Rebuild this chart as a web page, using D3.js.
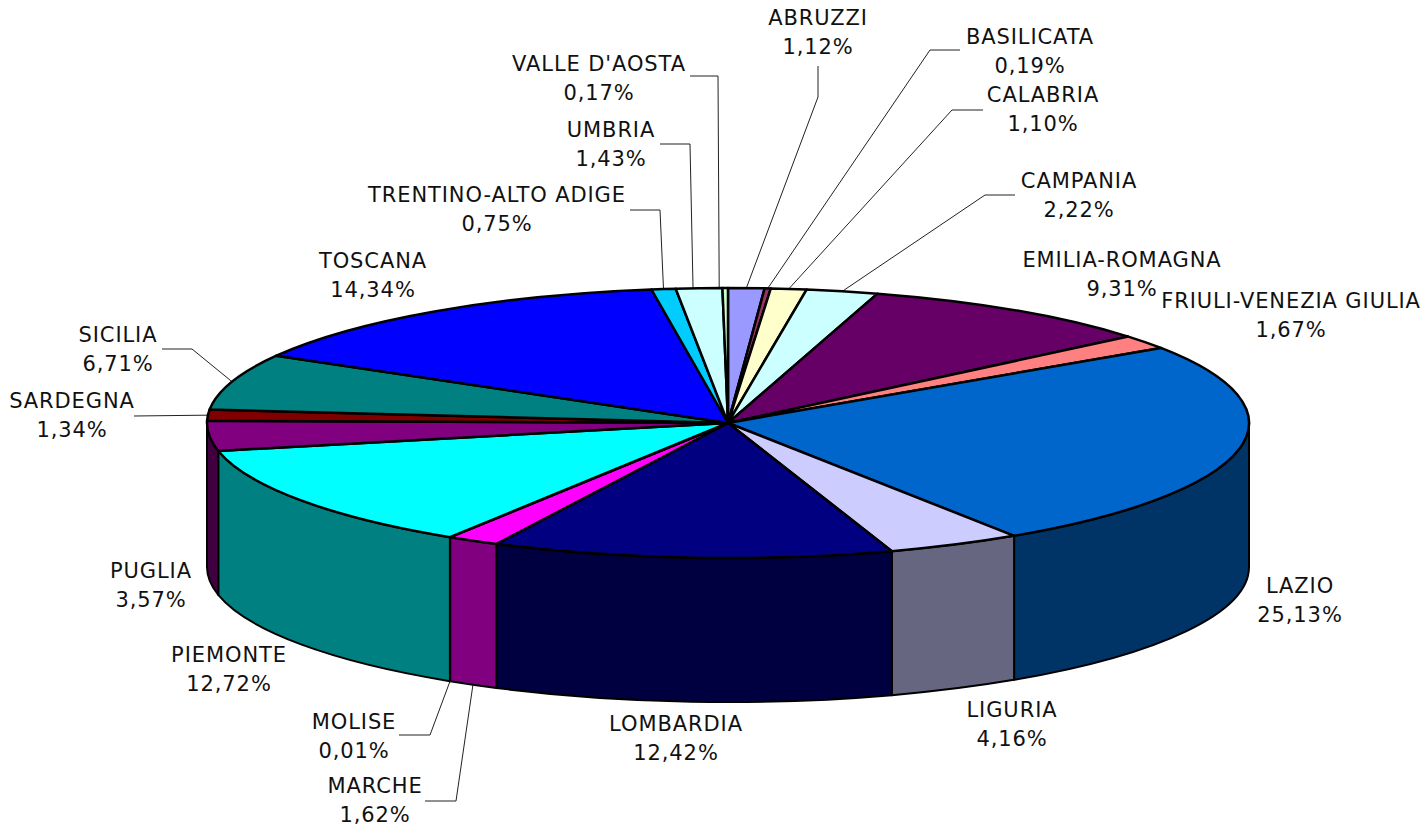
<!DOCTYPE html>
<html>
<head>
<meta charset="utf-8">
<script src="https://d3js.org/d3.v7.min.js"></script>
<style>
html, body { margin: 0; padding: 0; background: #fff; }
svg { display: block; }
text { font-family: "DejaVu Sans", sans-serif; font-size: 21px; letter-spacing: 0.9px; fill: #111; text-anchor: middle; }
</style>
</head>
<body>
<div id="chart"></div>
<script>
const regions = ["ABRUZZI", "BASILICATA", "CALABRIA", "CAMPANIA", "EMILIA-ROMAGNA", "FRIULI-VENEZIA GIULIA", "LAZIO", "LIGURIA", "LOMBARDIA", "MARCHE", "MOLISE", "PIEMONTE", "PUGLIA", "SARDEGNA", "SICILIA", "TOSCANA", "TRENTINO-ALTO ADIGE", "UMBRIA", "VALLE D'AOSTA"];
const shares = [1.12, 0.19, 1.10, 2.22, 9.31, 1.67, 25.13, 4.16, 12.42, 1.62, 0.01, 12.72, 3.57, 1.34, 6.71, 14.34, 0.75, 1.43, 0.17];
const topColors = ["#9999ff", "#993366", "#ffffcc", "#ccffff", "#660066", "#ff8080", "#0066cc", "#ccccff", "#000080", "#ff00ff", "#ffff00", "#00ffff", "#800080", "#800000", "#008080", "#0000ff", "#00ccff", "#ccffff", "#ccffcc"];

// label centres and leader elbows, in region order (no elbow = no leader)
const labelX = [818, 1030, 1043, 1079, 1122, 1291, 1300, 1012, 676, 375, 354, 229, 151, 72, 118, 373, 497, 611, 599];
const labelY = [18, 37, 95, 181, 260, 301, 586, 710, 724, 786, 722, 655, 571, 401, 335, 261, 195, 130, 64];
const leaders = {
    "ABRUZZI": [[818, 66], [818, 97]],
    "BASILICATA": [[960, 50], [930, 50]],
    "CALABRIA": [[983, 110], [952, 110]],
    "CAMPANIA": [[1015, 195], [985, 195]],
    "MARCHE": [[425, 801], [456, 801]],
    "MOLISE": [[399, 735], [430, 735]],
    "SARDEGNA": [[134, 416]],
    "SICILIA": [[162, 349], [192, 349]],
    "TRENTINO-ALTO ADIGE": [[630, 210], [660, 210]],
    "UMBRIA": [[660, 144], [690, 144]],
    "VALLE D'AOSTA": [[690, 76], [718, 76]],
};
// these two leaders land a little left of the slice middle
const leaderNudge = { "UMBRIA": -6, "VALLE D'AOSTA": -6 };

const WIDTH = 1428;
const HEIGHT = 832;
const CX = 728;
const CY = 423;
const RX = 521;
const RY = 135;
const DEPTH = 144;

const svg = d3.select("#chart").append("svg").attr("width", WIDTH).attr("height", HEIGHT);

const pie = d3.pie().sort(null).value((d) => d.share);
const slices = pie(regions.map((name, i) => ({ name, share: shares[i], color: topColors[i] })));

const project = (t, dy = 0) => [CX + RX * Math.sin(t), CY - RY * Math.cos(t) + dy];
const share2text = (v) => d3.format(".2f")(v).replace(".", ",") + "%";
const darken = (c) => {
    const rgb = d3.rgb(c);
    return d3.rgb(rgb.r / 2, rgb.g / 2, rgb.b / 2).formatHex();
};

// leaders go under the pie
const leaderG = svg.append("g");
slices.forEach((s) => {
    const elbow = leaders[s.data.name];
    if (!elbow) return;
    const mid = (s.startAngle + s.endAngle) / 2;
    const wall = mid > Math.PI / 2 && mid < 1.5 * Math.PI ? DEPTH : 0;
    const [ex, ey] = project(mid, wall);
    leaderG
        .append("path")
        .attr("d", d3.line()([...elbow, [ex + (leaderNudge[s.data.name] || 0), ey]]))
        .attr("fill", "none")
        .attr("stroke", "#222")
        .attr("stroke-width", 1);
});

// front wall, only the part between 90 and 270 degrees shows
const wallG = svg.append("g");
slices.forEach((s) => {
    const a0 = Math.max(s.startAngle, Math.PI / 2);
    const a1 = Math.min(s.endAngle, 1.5 * Math.PI);
    if (a1 <= a0) return;
    const [x0, y0] = project(a0);
    const [x1, y1] = project(a1);
    wallG
        .append("path")
        .attr("d", `M${x0},${y0}A${RX},${RY} 0 0 1 ${x1},${y1}L${x1},${y1 + DEPTH}A${RX},${RY} 0 0 0 ${x0},${y0 + DEPTH}Z`)
        .attr("fill", darken(s.data.color))
        .attr("stroke", "#000")
        .attr("stroke-width", 2)
        .attr("stroke-linejoin", "round");
});

// top face is a flat d3 arc squashed into an ellipse
const arc = d3.arc().innerRadius(0).outerRadius(RX);
svg.append("g")
    .attr("transform", `translate(${CX},${CY}) scale(1,${RY / RX})`)
    .selectAll("path")
    .data(slices)
    .join("path")
    .attr("d", arc)
    .attr("fill", (d) => d.data.color)
    .attr("stroke", "#000")
    .attr("stroke-width", 2.5)
    .attr("stroke-linejoin", "round")
    .attr("vector-effect", "non-scaling-stroke");

const labelG = svg.append("g");
slices.forEach((s, i) => {
    const t = labelG.append("text").attr("transform", `translate(${labelX[i]},${labelY[i]})`);
    t.append("tspan").attr("x", 0).attr("y", 7).text(s.data.name);
    t.append("tspan").attr("x", 0).attr("y", 36).text(share2text(s.data.share));
});
</script>
</body>
</html>
